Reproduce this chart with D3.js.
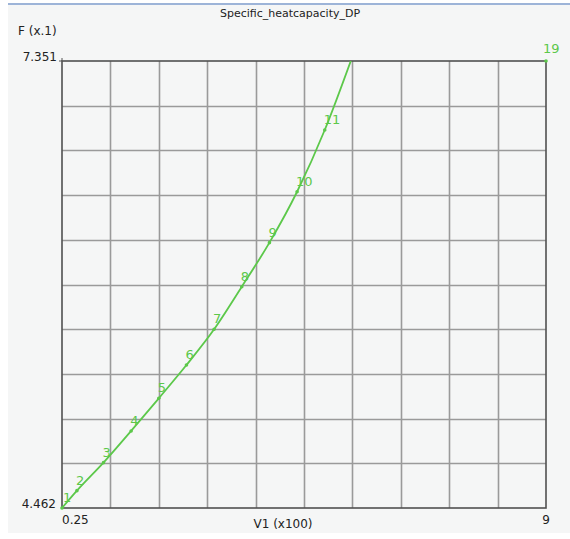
<!DOCTYPE html>
<html><head><meta charset="utf-8">
<script src="https://cdn.jsdelivr.net/npm/d3@7"></script>
<style>body{margin:0;background:#fff}</style>
</head><body><svg id="c" width="570" height="539"></svg>
<script>
const title = "Specific_heatcapacity_DP";
const xLabel = "V1 (x100)";
const yLabel = "F (x.1)";
const xDomain = [0.25, 9];
const yDomain = [4.462, 7.351];
const xTickLabels = ["0.25", "9"];
const yTickLabels = ["4.462", "7.351"];
const pointIds = [1, 2, 3, 4, 5, 6, 7, 8, 9, 10, 11, 12];
const xValues = [0.25, 0.52, 1.0, 1.5, 2.0, 2.5, 3.0, 3.5, 4.0, 4.5, 5.0, 5.5];
const yValues = [4.462, 4.574, 4.755, 4.960, 5.171, 5.386, 5.617, 5.892, 6.177, 6.506, 6.905, 7.38];
const endPoint = {id: 19, x: 9, y: 7.351};

const svg = d3.select("#c");
const green = "#5cc84a";
svg.append("rect").attr("x",8).attr("y",4).attr("width",562).attr("height",529).attr("fill","#f5f6f6");
svg.append("rect").attr("x",8).attr("y",3).attr("width",562).attr("height",2).attr("fill","#9db4d8");

const L=62,R=546,T=61,B=508;
const x = d3.scaleLinear().domain(xDomain).range([L,R]);
const y = d3.scaleLinear().domain(yDomain).range([B,T]);

const font = "Tahoma, 'DejaVu Sans', sans-serif";
const g = svg.append("g");
const xt = d3.range(11).map(i => xDomain[0] + i*(xDomain[1]-xDomain[0])/10);
const yt = d3.range(11).map(i => yDomain[0] + i*(yDomain[1]-yDomain[0])/10);
g.selectAll(".vx").data(xt.slice(1,-1)).join("line")
  .attr("x1",d=>Math.round(x(d))+0.5).attr("x2",d=>Math.round(x(d))+0.5).attr("y1",T).attr("y2",B)
  .attr("stroke","#9a9a9a").attr("stroke-width",1.6);
g.selectAll(".hy").data(yt.slice(1,-1)).join("line")
  .attr("y1",d=>Math.round(y(d))+0.5).attr("y2",d=>Math.round(y(d))+0.5).attr("x1",L).attr("x2",R)
  .attr("stroke","#9a9a9a").attr("stroke-width",1.6);
g.append("rect").attr("x",L).attr("y",T).attr("width",R-L).attr("height",B-T)
  .attr("fill","none").attr("stroke","#505050").attr("stroke-width",1.6);
g.append("line").attr("x1",L-3).attr("x2",L).attr("y1",T).attr("y2",T).attr("stroke","#555");
g.append("line").attr("x1",L).attr("x2",L).attr("y1",T-3).attr("y2",T).attr("stroke","#555");

const txt = (s,xx,yy,anchor,size) => svg.append("text").attr("x",xx).attr("y",yy).attr("text-anchor",anchor)
  .attr("font-family",font).attr("font-size",size).attr("fill","#222").text(s);
txt(title,290,17,"middle",11);
txt(yLabel,18,35,"start",12);
txt(yTickLabels[1],57,61,"end",12);
txt(yTickLabels[0],56,508,"end",12);
txt(xTickLabels[0],x(xDomain[0]),524,"start",12);
txt(xTickLabels[1],x(xDomain[1]),524,"middle",12);
txt(xLabel,283,528,"middle",12);

const pts = xValues.map((v,i)=>({id:pointIds[i], x:v, y:yValues[i]}));
svg.append("clipPath").attr("id","clip").append("rect").attr("x",L-2).attr("y",T).attr("width",R-L+4).attr("height",B-T+2);
const pg = svg.append("g").attr("clip-path","url(#clip)");
pg.append("path").datum(pts).attr("fill","none").attr("stroke",green).attr("stroke-width",1.8)
  .attr("d", d3.line().x(d=>x(d.x)).y(d=>y(d.y)).curve(d3.curveMonotoneX));
pg.selectAll("circle").data(pts).join("circle").attr("cx",d=>x(d.x)).attr("cy",d=>y(d.y)).attr("r",1.8).attr("fill",green);
svg.selectAll(".lbl").data(pts.filter(d=>y(d.y)>T+10)).join("text")
  .attr("x",d=>x(d.x)+(d.id===1?1:-1)).attr("y",d=>y(d.y)-6).attr("font-family",font).attr("font-size",13)
  .attr("fill",green).text(d=>d.id);
svg.append("circle").attr("cx",x(endPoint.x)).attr("cy",y(endPoint.y)).attr("r",1.8).attr("fill",green);
svg.append("text").attr("x",x(endPoint.x)-3).attr("y",y(endPoint.y)-8).attr("font-family",font).attr("font-size",13).attr("fill",green).text(endPoint.id);
</script></body></html>
